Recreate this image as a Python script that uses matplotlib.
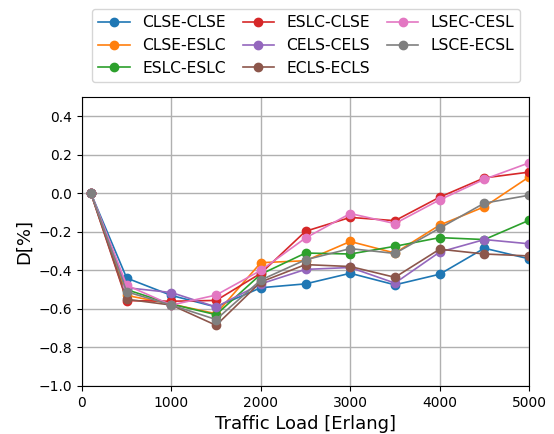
import matplotlib
matplotlib.use("Agg")
import matplotlib.pyplot as plt

# traffic load points (Erlang)
load = [100, 500, 1000, 1500, 2000, 2500, 3000, 3500, 4000, 4500, 5000]

clse_clse = [0, -0.44, -0.53, -0.59, -0.49, -0.47, -0.415, -0.475, -0.42, -0.285, -0.34]
clse_eslc = [0, -0.53, -0.575, -0.625, -0.36, -0.35, -0.25, -0.31, -0.165, -0.07, 0.085]
eslc_eslc = [0, -0.50, -0.575, -0.63, -0.42, -0.31, -0.315, -0.275, -0.23, -0.24, -0.14]
eslc_clse = [0, -0.557, -0.56, -0.556, -0.415, -0.197, -0.125, -0.142, -0.02, 0.08, 0.11]
cels_cels = [0, -0.49, -0.515, -0.59, -0.47, -0.395, -0.385, -0.466, -0.305, -0.24, -0.262]
ecls_ecls = [0, -0.55, -0.58, -0.685, -0.46, -0.37, -0.38, -0.436, -0.29, -0.315, -0.325]
lsec_cesl = [0, -0.477, -0.58, -0.528, -0.40, -0.232, -0.105, -0.157, -0.034, 0.073, 0.158]
lsce_ecsl = [0, -0.511, -0.58, -0.655, -0.45, -0.345, -0.287, -0.312, -0.181, -0.051, -0.01]

series = [
    ("CLSE-CLSE", clse_clse),
    ("CLSE-ESLC", clse_eslc),
    ("ESLC-ESLC", eslc_eslc),
    ("ESLC-CLSE", eslc_clse),
    ("CELS-CELS", cels_cels),
    ("ECLS-ECLS", ecls_ecls),
    ("LSEC-CESL", lsec_cesl),
    ("LSCE-ECSL", lsce_ecsl),
]

fig = plt.figure(figsize=(5.54, 4.34), dpi=100)
ax = fig.add_axes([0.148, 0.1106, 0.807, 0.666])

for name, vals in series:
    ax.plot(load, vals, 'o-', linewidth=1.2, markersize=6, label=name)

ax.set_xlim(0, 5000)
ax.set_ylim(-1.0, 0.5)
ax.set_yticks([-1.0, -0.8, -0.6, -0.4, -0.2, 0.0, 0.2, 0.4])
ax.set_xticks([0, 1000, 2000, 3000, 4000, 5000])
ax.grid(True, linewidth=1)
ax.tick_params(labelsize=10)
ax.set_xlabel("Traffic Load [Erlang]", fontsize=13)
ax.set_ylabel("D[%]", fontsize=13)

fig.legend(loc="upper center", bbox_to_anchor=(0.553, 0.997), ncol=3,
           fontsize=11.2, handlelength=2.0, columnspacing=1.1)

fig.savefig("out.png", dpi=100)
